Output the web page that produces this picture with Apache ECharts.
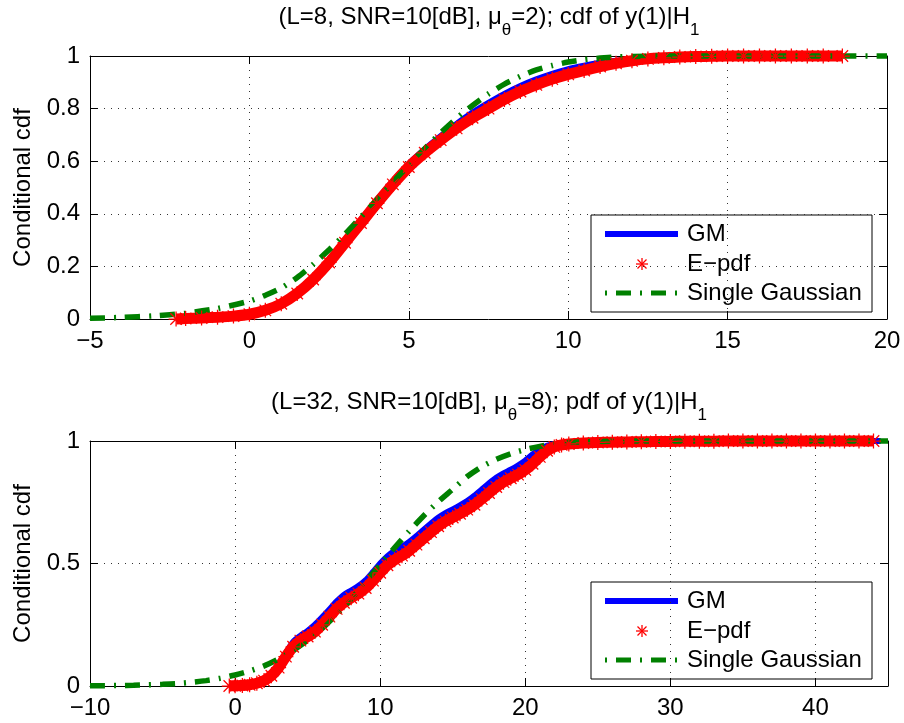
<!DOCTYPE html>
<html><head><meta charset="utf-8">
<script src="https://cdn.jsdelivr.net/npm/echarts@6/dist/echarts.min.js"></script>
<style>html,body{margin:0;padding:0;background:#fff}#c{width:904px;height:723px}</style>
</head><body><div id="c"></div>
<script>
// ---------- data ----------
const legendNames = ['GM', 'E\u2212pdf', 'Single Gaussian'];
const topTitleText = '(L=8, SNR=10[dB], \u03bc{s|\u03b8}=2); cdf of y(1)|H{s|1}';
const botTitleText = '(L=32, SNR=10[dB], \u03bc{s|\u03b8}=8); pdf of y(1)|H{s|1}';
const yName = 'Conditional cdf';
const topXTicks = {min: -5, max: 20, interval: 5};
const topYTicks = {min: 0, max: 1, interval: 0.2};
const botXTicks = {min: -10, max: 45, interval: 10};
const botYTicks = {min: 0, max: 1, interval: 0.5};

const topGM = [[-2.3,0],[-2,0.002],[-1.5,0.004],[-1,0.007],[-0.5,0.012],[0,0.02],[0.5,0.036],[1,0.062],[1.5,0.102],[2,0.158],[2.5,0.226],[3,0.302],[3.5,0.378],[4,0.453],[4.5,0.524],[5,0.59],[5.5,0.645],[6,0.695],[6.5,0.742],[7,0.785],[7.5,0.822],[8,0.856],[8.5,0.886],[9,0.911],[9.5,0.932],[10,0.95],[10.5,0.963],[11,0.974],[11.5,0.982],[12,0.988],[12.5,0.993],[13,0.996],[14,0.998],[15,0.999],[16,1],[18.6,1]];
const topEpdf = [[-2.3,0],[-2,0.002],[-1.5,0.004],[-1,0.007],[-0.5,0.011],[0,0.018],[0.5,0.033],[1,0.058],[1.5,0.097],[2,0.15],[2.5,0.215],[3,0.29],[3.5,0.365],[4,0.44],[4.5,0.512],[5,0.578],[5.5,0.632],[6,0.68],[6.5,0.725],[7,0.765],[7.5,0.8],[8,0.835],[8.5,0.865],[9,0.89],[9.5,0.912],[10,0.93],[10.5,0.945],[11,0.96],[11.5,0.972],[12,0.982],[12.5,0.989],[13,0.993],[13.5,0.996],[14,0.998],[14.5,0.999],[15,1],[15.5,1],[16,1],[16.5,1],[17,1],[17.5,1],[18,1],[18.6,1]];
const topGauss = [[-5,0.003],[-4,0.006],[-3,0.012],[-2,0.022],[-1,0.04],[0,0.068],[0.5,0.09],[1,0.118],[1.5,0.158],[2,0.208],[2.5,0.263],[3,0.323],[3.5,0.388],[4,0.453],[4.5,0.52],[5,0.585],[5.5,0.648],[6,0.708],[6.5,0.763],[7,0.812],[7.5,0.856],[8,0.893],[8.5,0.923],[9,0.947],[9.5,0.964],[10,0.977],[10.5,0.986],[11,0.992],[11.5,0.996],[12,0.998],[13,1],[14,1],[16,1],[18,1],[20,1]];

const botGM = [[-0.4,0],[0,0.001],[0.5,0.003],[1,0.007],[1.5,0.014],[2,0.027],[2.5,0.05],[3,0.088],[3.5,0.135],[4,0.18],[4.5,0.205],[5,0.225],[5.5,0.25],[6,0.28],[6.5,0.312],[7,0.345],[7.5,0.372],[8,0.39],[8.5,0.408],[9,0.432],[9.5,0.465],[10,0.5],[10.5,0.53],[11,0.552],[11.5,0.568],[12,0.588],[12.5,0.612],[13,0.638],[13.5,0.663],[14,0.687],[14.5,0.706],[15,0.721],[15.5,0.737],[16,0.755],[16.5,0.777],[17,0.802],[17.5,0.827],[18,0.85],[18.5,0.868],[19,0.883],[19.5,0.9],[20,0.92],[20.5,0.945],[21,0.965],[21.5,0.98],[22,0.988],[23,0.992],[24,0.995],[26,0.997],[28,0.999],[30,1],[35,1],[40,1],[44.5,1]];
const botEpdf = [[-0.4,0],[0,0.001],[0.5,0.002],[1,0.005],[1.5,0.011],[2,0.022],[2.5,0.042],[3,0.075],[3.5,0.12],[4,0.16],[4.5,0.185],[5,0.202],[5.5,0.222],[6,0.25],[6.5,0.283],[7,0.315],[7.5,0.34],[8,0.36],[8.5,0.377],[9,0.4],[9.5,0.43],[10,0.462],[10.5,0.493],[11,0.515],[11.5,0.532],[12,0.552],[12.5,0.577],[13,0.603],[13.5,0.628],[14,0.652],[14.5,0.672],[15,0.688],[15.5,0.703],[16,0.72],[16.5,0.74],[17,0.763],[17.5,0.788],[18,0.812],[18.5,0.832],[19,0.848],[19.5,0.863],[20,0.882],[20.5,0.907],[21,0.935],[21.5,0.96],[22,0.976],[22.5,0.984],[23,0.988],[24,0.992],[25,0.994],[26,0.995],[27,0.996],[28,0.997],[29,0.998],[30,0.998],[31,0.999],[32,0.999],[33,0.999],[34,1],[35,1],[36,1],[37,1],[38,1],[39,1],[40,1],[41,1],[42,1],[43,1],[44,1]];
const botGauss = [[-10,0.001],[-9,0.001],[-8,0.002],[-7,0.003],[-6,0.005],[-5,0.007],[-4,0.01],[-3,0.015],[-2,0.022],[-1,0.032],[0,0.045],[1,0.061],[2,0.082],[3,0.11],[4,0.145],[5,0.187],[6,0.236],[7,0.292],[8,0.355],[9,0.425],[10,0.495],[11,0.565],[12,0.632],[13,0.695],[14,0.752],[15,0.803],[16,0.855],[17,0.895],[18,0.925],[19,0.948],[20,0.965],[21,0.978],[22,0.988],[23,0.994],[24,0.997],[26,0.999],[28,1],[35,1],[45,1]];

// ---------- style ----------
const FONT = '"Liberation Sans", Arial, Helvetica, sans-serif';
const FS = 24;
const BLUE = '#0000ff', RED = '#ff0000', GREEN = '#008000';
const DASHDOT = [15, 9, 2, 9];
const AST = 'path://M11 0L13 0L13 24L11 24Z M0 11L24 11L24 13L0 13Z M3.5 2.1L21.9 20.5L20.5 21.9L2.1 3.5Z M20.5 2.1L21.9 3.5L3.5 21.9L2.1 20.5Z';

const G = [
  {left: 90, top: 56, width: 797, height: 263},
  {left: 90, top: 441, width: 798, height: 245}
];

function fmt(v) { return v < 0 ? '\u2212' + Math.abs(v) : String(v); }

function xAxes(gi, t) {
  const base = {gridIndex: gi, type: 'value', min: t.min, max: t.max, interval: t.interval,
    axisLine: {show: true, onZero: false, lineStyle: {color: '#000', width: 1}},
    axisTick: {show: true, inside: true, length: 8, lineStyle: {color: '#000'}}};
  return [
    Object.assign({}, base, {position: 'bottom',
      axisLabel: {show: true, color: '#000', fontSize: FS, fontFamily: FONT, margin: 10, showMaxLabel: t.max % t.interval === 0,
        formatter: v => (v - t.min) % t.interval === 0 ? fmt(v) : ''},
      splitLine: {show: true, lineStyle: {color: '#333', width: 1, type: [1, 6]}}}),
    Object.assign({}, base, {position: 'top', axisLabel: {show: false}, splitLine: {show: false}})
  ];
}
function yAxes(gi, t) {
  const base = {gridIndex: gi, type: 'value', min: t.min, max: t.max, interval: t.interval,
    axisLine: {show: true, onZero: false, lineStyle: {color: '#000', width: 1}},
    axisTick: {show: true, inside: true, length: 8, lineStyle: {color: '#000'}}};
  return [
    Object.assign({}, base, {position: 'left', name: yName, nameLocation: 'middle', nameRotate: 90, nameGap: 54,
      nameTextStyle: {color: '#000', fontSize: FS, fontFamily: FONT},
      axisLabel: {show: true, color: '#000', fontSize: FS, fontFamily: FONT, margin: 10, formatter: v => fmt(v)},
      splitLine: {show: true, lineStyle: {color: '#333', width: 1, type: [1, 6]}}}),
    Object.assign({}, base, {position: 'right', axisLabel: {show: false}, splitLine: {show: false}})
  ];
}

function seriesFor(gi, gm, ep, ga) {
  const ax = {xAxisIndex: gi * 2, yAxisIndex: gi * 2};
  return [
    Object.assign({type: 'line', name: legendNames[0], data: gm, showSymbol: false, clip: false, smooth: 0.25,
      lineStyle: {color: BLUE, width: 6}, itemStyle: {color: BLUE}}, ax),
    Object.assign({type: 'line', name: legendNames[1], data: ep, symbol: AST, symbolSize: 15, showSymbol: true, showAllSymbol: true, clip: false, smooth: 0.25,
      lineStyle: {color: RED, width: 11}, itemStyle: {color: RED}}, ax),
    Object.assign({type: 'line', name: legendNames[2], data: ga, showSymbol: false, clip: false, smooth: 0.25,
      lineStyle: {color: GREEN, width: 5.5, type: DASHDOT, cap: 'butt'}, itemStyle: {color: GREEN}}, ax)
  ];
}

function legendGroup(x, y) {
  const txt = (ty, s) => ({type: 'text', x: 96, y: ty, style: {text: s, fill: '#000', font: FS + 'px ' + FONT, textVerticalAlign: 'middle', textAlign: 'left'}});
  const cx = 51, cy = 49, r = 6, d = 4.5;
  const ln = (x1, y1, x2, y2) => ({type: 'line', shape: {x1: cx + x1, y1: cy + y1, x2: cx + x2, y2: cy + y2}, style: {stroke: RED, lineWidth: 1.3}});
  return {type: 'group', x: x, y: y, z: 100, children: [
    {type: 'rect', shape: {x: 0, y: 0, width: 281, height: 97}, style: {fill: '#fff', stroke: '#000', lineWidth: 1}},
    {type: 'line', shape: {x1: 14, y1: 19, x2: 87, y2: 19}, style: {stroke: BLUE, lineWidth: 6}},
    ln(-r, 0, r, 0), ln(0, -r, 0, r), ln(-d, -d, d, d), ln(-d, d, d, -d),
    {type: 'line', shape: {x1: 14, y1: 78, x2: 87, y2: 78}, style: {stroke: GREEN, lineWidth: 5, lineDash: [2, 9, 15, 9]}},
    txt(19, legendNames[0]), txt(49, legendNames[1]), txt(78, legendNames[2])
  ]};
}

const titleStyle = {color: '#000', fontSize: FS, fontWeight: 'normal', fontFamily: FONT, lineHeight: 34,
  rich: {s: {fontSize: 17, fontFamily: FONT, color: '#000', lineHeight: 34, padding: [26, 0, 0, 0]}}};

const option = {
  animation: false,
  backgroundColor: '#fff',
  title: [
    {text: topTitleText, left: 489, top: 0, textAlign: 'center', padding: 0, textStyle: titleStyle},
    {text: botTitleText, left: 489, top: 385, textAlign: 'center', padding: 0, textStyle: titleStyle}
  ],
  grid: G,
  xAxis: [].concat(xAxes(0, topXTicks), xAxes(1, botXTicks)),
  yAxis: [].concat(yAxes(0, topYTicks), yAxes(1, botYTicks)),
  series: [].concat(seriesFor(0, topGM, topEpdf, topGauss), seriesFor(1, botGM, botEpdf, botGauss)),
  graphic: [legendGroup(591, 215), legendGroup(591, 582)]
};
const chart = echarts.init(document.getElementById('c'), null, {renderer: 'canvas'});
chart.setOption(option);
</script></body></html>
